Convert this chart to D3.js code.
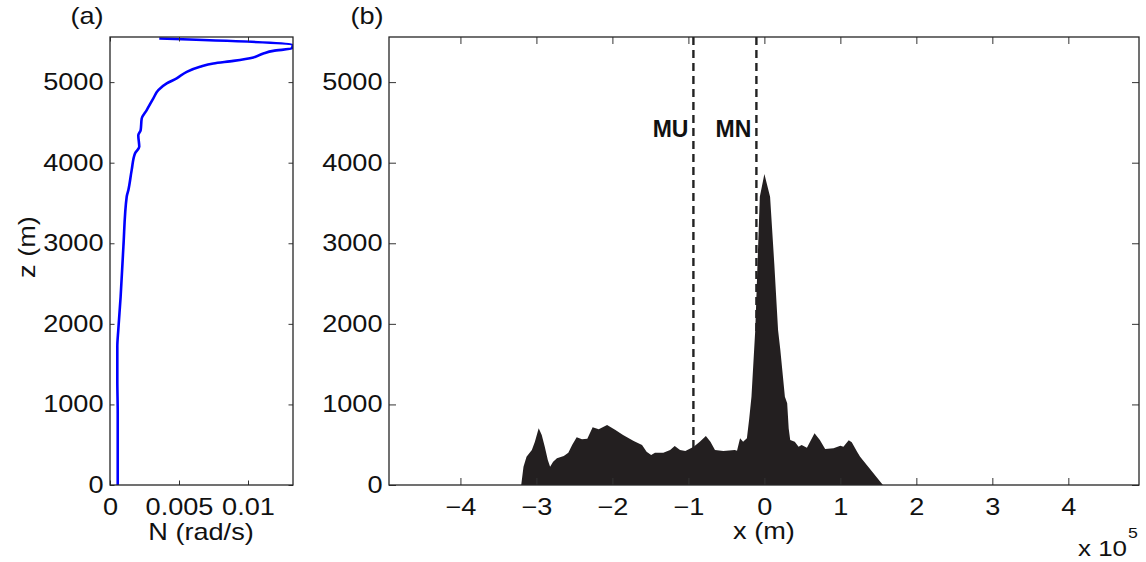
<!DOCTYPE html>
<html>
<head>
<meta charset="utf-8">
<script src="https://cdn.jsdelivr.net/npm/d3@7"></script>
<style>
  body { margin: 0; background: #fff; }
  text { font-family: 'Liberation Sans', Arial, Helvetica, sans-serif; fill: #111; }
</style>
</head>
<body>
<script>
// buoyancy frequency profile, panel (a)
const nDepth = [5542, 5459, 5418, 5388, 5356, 5306, 5264, 5232, 5190, 5128, 5046, 4984, 4901, 4798,
  4653, 4550, 4404, 4342, 4197, 4115, 3908, 3660, 3577, 2957, 2336, 1923, 1716, 1303, 893, 0];
const nFreq = [0.00357, 0.01324, 0.01317, 0.01183, 0.01111, 0.01039, 0.00894, 0.00749, 0.00652, 0.00556,
  0.00483, 0.00411, 0.0035, 0.00314, 0.00266, 0.0023, 0.00222, 0.00205, 0.00212, 0.00181, 0.00157,
  0.00133, 0.00121, 0.00097, 0.00077, 0.0006, 0.00053, 0.00053, 0.00056, 0.00056];

// topography section, panel (b), x in units of 1e5 m
const topoX = [-3.20, -3.17, -3.13, -3.06, -3.02, -2.97, -2.93, -2.89, -2.85, -2.82, -2.78, -2.73, -2.64,
  -2.58, -2.53, -2.47, -2.40, -2.33, -2.26, -2.18, -2.07, -1.96, -1.86, -1.72, -1.61, -1.55, -1.49, -1.44,
  -1.33, -1.24, -1.18, -1.11, -1.04, -0.93, -0.85, -0.77, -0.71, -0.65, -0.54, -0.39, -0.36, -0.32, -0.28,
  -0.23, -0.20, -0.17, -0.12, -0.09, -0.06, 0.00, 0.075, 0.13, 0.18, 0.21, 0.27, 0.30, 0.32, 0.34, 0.40,
  0.45, 0.49, 0.56, 0.66, 0.73, 0.80, 0.91, 1.00, 1.04, 1.11, 1.15, 1.22, 1.26, 1.56];
const topoZ = [0, 227, 351, 434, 537, 703, 620, 475, 310, 227, 289, 331, 360,
  401, 496, 592, 567, 574, 716, 691, 744, 682, 620, 546, 496, 413, 372, 401,
  401, 434, 484, 434, 422, 475, 537, 608, 537, 434, 422, 434, 426, 579, 537,
  579, 820, 1096, 1923, 2751, 3577, 3860, 3577, 2751, 1923, 1675, 1096, 1014, 700, 558, 537,
  475, 496, 463, 641, 558, 447, 455, 488, 475, 555, 530, 413, 351, 0];

// ridge markers
const ridgeNames = ["MU", "MN"];
const ridgeX = [-0.934, -0.105];

const zTicks = [0, 1000, 2000, 3000, 4000, 5000];
const nTicks = [0, 0.005, 0.01];
const xTicks = [-4, -3, -2, -1, 0, 1, 2, 3, 4];

const W = 1146, H = 562;
const STRETCH = 1.18;
const FS = 23;

const svg = d3.select("body").append("svg")
  .attr("width", W)
  .attr("height", H);

svg.append("rect").attr("width", W).attr("height", H).attr("fill", "#fff");

const boxA = { left: 110, right: 293, top: 37, bottom: 485 };
const boxB = { left: 389, right: 1139, top: 37, bottom: 485 };

const nScale = d3.scaleLinear().domain([0, 0.01326]).range([boxA.left, boxA.right]);
const zA = d3.scaleLinear().domain([0, 5560]).range([boxA.bottom, boxA.top]);
const xScale = d3.scaleLinear().domain([-4.94, 4.93]).range([boxB.left, boxB.right]);
const zB = d3.scaleLinear().domain([0, 5560]).range([boxB.bottom, boxB.top]);

// panel (b) marks first, axes on top
const gB = svg.append("g");

gB.selectAll("line.ridge")
  .data(ridgeX)
  .enter()
  .append("line")
  .attr("class", "ridge")
  .attr("x1", d => xScale(d))
  .attr("x2", d => xScale(d))
  .attr("y1", boxB.top)
  .attr("y2", boxB.bottom)
  .attr("stroke", "#222")
  .attr("stroke-width", 2.4)
  .attr("stroke-dasharray", "8,5");

const topo = topoX.map((x, i) => ({ x: x, z: topoZ[i] }));
const area = d3.area()
  .x(d => xScale(d.x))
  .y0(zB(0))
  .y1(d => zB(d.z));

gB.append("path")
  .datum(topo)
  .attr("fill", "#231f20")
  .attr("d", area);

gB.selectAll("text.ridge")
  .data(ridgeNames)
  .enter()
  .append("text")
  .attr("class", "ridge")
  .attr("x", (d, i) => xScale(ridgeX[i]) - 5)
  .attr("y", 137)
  .attr("text-anchor", "end")
  .attr("font-weight", "bold")
  .attr("font-size", FS)
  .text(d => d);

// panel (a) profile
const profile = nDepth.map((z, i) => ({ z: z, n: nFreq[i] }));
const line = d3.line()
  .curve(d3.curveMonotoneY)
  .x(d => nScale(d.n))
  .y(d => zA(d.z));

svg.append("defs").append("clipPath").attr("id", "clipA")
  .append("rect")
  .attr("x", boxA.left).attr("y", boxA.top - 3)
  .attr("width", boxA.right - boxA.left).attr("height", boxA.bottom - boxA.top + 3);

svg.append("path")
  .datum(profile)
  .attr("clip-path", "url(#clipA)")
  .attr("fill", "none")
  .attr("stroke", "#0000ff")
  .attr("stroke-width", 2.6)
  .attr("stroke-linejoin", "round")
  .attr("d", line);

function drawAxes(x, z, box, xt, zt, xfmt, zfmt, tick) {
  const bottom = svg.append("g")
    .attr("transform", `translate(0,${box.bottom})`)
    .call(d3.axisBottom(x).tickValues(xt).tickFormat(xfmt)
      .tickSizeInner(-tick).tickSizeOuter(0).tickPadding(14));
  svg.append("g")
    .attr("transform", `translate(0,${box.top})`)
    .call(d3.axisTop(x).tickValues(xt).tickFormat("")
      .tickSizeInner(-tick).tickSizeOuter(0));
  const left = svg.append("g")
    .attr("transform", `translate(${box.left},0)`)
    .call(d3.axisLeft(z).tickValues(zt).tickFormat(zfmt)
      .tickSizeInner(-tick).tickSizeOuter(0).tickPadding(5.5));
  svg.append("g")
    .attr("transform", `translate(${box.right},0)`)
    .call(d3.axisRight(z).tickValues(zt).tickFormat("")
      .tickSizeInner(-tick).tickSizeOuter(0));

  svg.selectAll(".domain").remove();
  svg.selectAll(".tick line").attr("stroke", "#333");

  [bottom, left].forEach(g => {
    g.selectAll("text")
      .attr("font-size", FS)
      .attr("fill", "#111")
      .attr("transform", `scale(${STRETCH},1)`);
  });

  svg.append("rect")
    .attr("x", box.left)
    .attr("y", box.top)
    .attr("width", box.right - box.left)
    .attr("height", box.bottom - box.top)
    .attr("fill", "none")
    .attr("stroke", "#262626")
    .attr("stroke-width", 1.3);
}

drawAxes(nScale, zA, boxA, nTicks, zTicks, d => String(d), d => String(d), 4.5);
drawAxes(xScale, zB, boxB, xTicks, zTicks,
  d => (d < 0 ? "\u2212" : "") + Math.abs(d), d => String(d), 7);

// labels
function label(txt, x, y, opts) {
  const t = svg.append("text")
    .attr("text-anchor", (opts && opts.anchor) || "middle")
    .attr("font-size", (opts && opts.size) || FS)
    .attr("transform", `translate(${x},${y})${opts && opts.rotate ? " rotate(" + opts.rotate + ")" : ""} scale(${STRETCH},1)`)
    .text(txt);
  return t;
}

label("(a)", 87, 24);
label("(b)", 367, 24);
label("N (rad/s)", 201, 540);
label("x (m)", 764, 539);
label("z (m)", 35, 247, { rotate: -90 });
label("x 10", 1078, 556, { anchor: "start", size: 22 });
label("5", 1128, 538, { anchor: "start", size: 15 });
</script>
</body>
</html>
